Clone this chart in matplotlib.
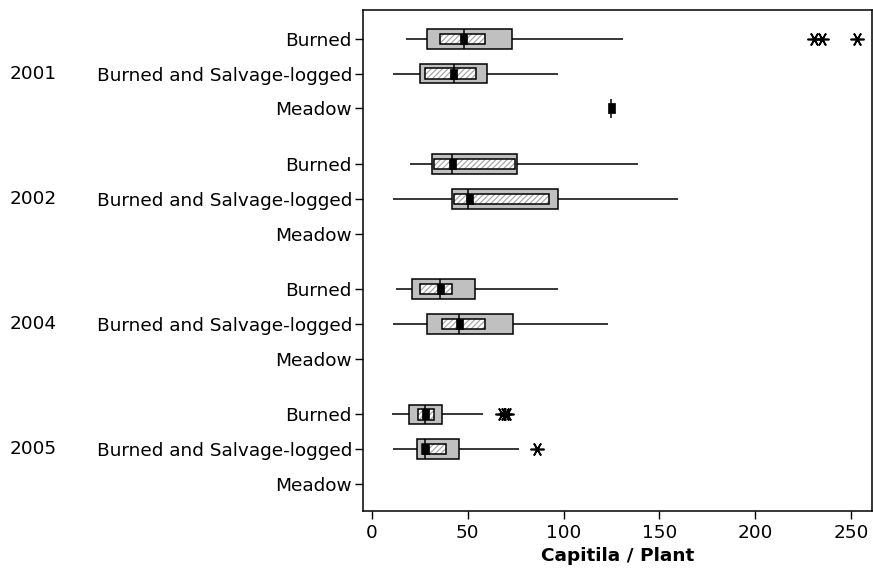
import matplotlib
matplotlib.use('Agg')
from matplotlib import pyplot as plt

plt.rcParams['font.family'] = ['DejaVu Sans']
plt.rcParams['hatch.linewidth'] = 0.8

years = ['2001', '2002', '2004', '2005']
sites = ['Burned', 'Burned and Salvage-logged', 'Meadow']

# one entry per (year, site), None where there is no data
whisk_lo = [17.6, 11.1, None, 19.8, 11.1, None, 12.4, 11.1, None, 10.6, 11.1, None]
q1 = [28.5, 25.0, None, 31.1, 41.6, None, 20.7, 28.5, None, 19.1, 23.5, None]
ci_lo = [35.5, 27.7, None, 32.4, 42.8, None, 25.0, 36.4, None, 24.2, 25.9, None]
median = [47.8, 42.6, 124.8, 41.6, 50.3, None, 35.7, 45.4, None, 27.8, 27.7, None]
mean = [47.7, 42.5, 125.0, 41.8, 50.4, None, 35.7, 45.2, None, 27.8, 27.8, None]
ci_hi = [59.0, 54.1, None, 74.6, 92.5, None, 41.6, 59.0, None, 32.4, 38.5, None]
q3 = [72.9, 59.9, None, 75.5, 96.9, None, 53.9, 73.8, None, 36.7, 45.4, None]
whisk_hi = [131, 97, None, 139, 160, None, 97, 123, None, 58.1, 76.9, None]
outliers = [[231, 235, 253], [], [], [], [], [], [], [], [], [68, 69.5, 70.5], [86], []]

gap = 0.6
ypos = [g * (3 + gap) + i for g in range(len(years)) for i in range(len(sites))]
labels = [s for _ in years for s in sites]

fig = plt.figure(figsize=(8.73, 5.73), dpi=100)
ax = fig.add_axes([0.4158, 0.1082, 0.5830, 0.8743])

box_h = 0.56
ci_h = 0.30
lw = 1.1
ast = (6, 2, 90)
mean_mk = [(-0.35, -0.5), (0.35, -0.5), (0.35, 0.5), (-0.35, 0.5), (-0.35, -0.5)]

for k, y in enumerate(ypos):
    if q1[k] is not None:
        ax.hlines(y, whisk_lo[k], q1[k], color='black', lw=lw, zorder=1)
        ax.hlines(y, q3[k], whisk_hi[k], color='black', lw=lw, zorder=1)
        ax.barh(y, q3[k] - q1[k], left=q1[k], height=box_h, color='#c0c0c0',
                edgecolor='black', lw=lw, zorder=2)
        ax.barh(y, ci_hi[k] - ci_lo[k], left=ci_lo[k], height=ci_h, color='white',
                edgecolor='#a0a0a0', hatch='//////', lw=0, zorder=3)
        ax.barh(y, ci_hi[k] - ci_lo[k], left=ci_lo[k], height=ci_h, fill=False,
                edgecolor='black', lw=lw, zorder=4)
    if median[k] is not None:
        ax.vlines(median[k], y - box_h / 2, y + box_h / 2, color='black', lw=lw, zorder=5)
        ax.plot(mean[k], y, marker=mean_mk, ms=7.2, color='black', mec='black',
                mew=0.5, zorder=6)
    if outliers[k]:
        ax.plot(outliers[k], [y] * len(outliers[k]), ls='none', marker=ast, ms=10,
                mew=1.2, color='black', zorder=6)

ax.set_xlim(-4.7, 261)
ax.set_ylim(ypos[-1] + 0.78, ypos[0] - 0.83)
ax.set_yticks(ypos)
ax.set_yticklabels(labels, fontsize=13.3)
ax.set_xticks([0, 50, 100, 150, 200, 250])
ax.tick_params(axis='x', labelsize=13.3, length=6, width=1.0, pad=3)
ax.tick_params(axis='y', length=6, width=1.0, pad=2)
for sp in ax.spines.values():
    sp.set_linewidth(1.1)
ax.set_xlabel('Capitila / Plant', fontsize=13.3, fontweight='bold', labelpad=4)

for g, yr in enumerate(years):
    yy = ypos[g * 3 + 1]
    ax.annotate(yr, xy=(10 / 873, yy), xycoords=('figure fraction', 'data'),
                va='center', ha='left', fontsize=13.3)

fig.savefig('out.png', dpi=100)
